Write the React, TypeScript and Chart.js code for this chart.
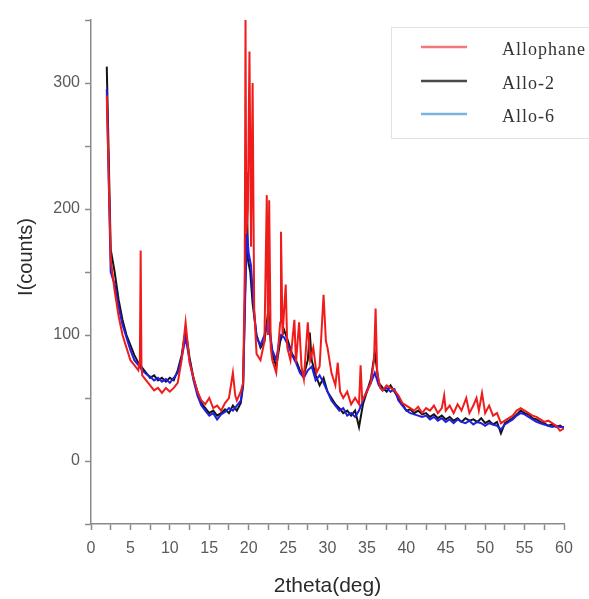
import React, { useEffect, useRef } from "react";
import { Chart, registerables } from "chart.js";

Chart.register(...registerables);

// ---------- data ----------
const seriesNames = ["Allophane", "Allo-2", "Allo-6"];

const allophaneX = [
  2.0, 2.5, 3.0, 3.5, 4.0, 4.5, 5.0, 5.5, 6.0, 6.2, 6.3, 6.4, 6.5, 7.0, 7.5, 8.0, 8.5, 9.0, 9.5, 10.0,
  10.5, 11.0, 11.5, 12.0, 12.5, 13.0, 13.5, 14.0, 14.5, 15.0, 15.5, 16.0, 16.5, 17.0, 17.5, 18.0, 18.3,
  18.5, 19.0, 19.3, 19.5, 19.6, 19.7, 19.9, 20.1, 20.3, 20.5, 20.7, 21.0, 21.5, 22.0, 22.3, 22.45, 22.6,
  22.8, 23.0, 23.5, 24.0, 24.1, 24.3, 24.7, 24.9, 25.3, 25.8, 26.0, 26.4, 26.7, 27.0, 27.5, 27.8, 28.2,
  28.6, 29.0, 29.5, 29.8, 30.0, 30.5, 31.0, 31.3, 31.6, 32.0, 32.5, 33.0, 33.5, 34.0, 34.2, 34.4, 35.0,
  35.5, 35.9, 36.1, 36.3, 36.7, 37.0, 37.5, 38.0, 38.5, 39.0, 39.5, 40.0, 40.5, 41.0, 41.5, 42.0, 42.5,
  43.0, 43.5, 44.0, 44.5, 44.8, 45.0, 45.5, 46.0, 46.5, 47.0, 47.6, 48.0, 48.5, 48.9, 49.2, 49.6, 50.0,
  50.5, 51.0, 51.5, 52.0, 52.5, 53.0, 53.5, 54.0, 54.5, 55.0, 55.5, 56.0, 56.5, 57.0, 57.5, 58.0, 58.5,
  59.0, 59.5, 60.0,
];
const allophaneY = [
  290, 160, 135, 115, 100, 90, 80, 76, 72, 80, 167, 75, 68, 64, 60, 56, 58, 54, 58, 55,
  58, 62, 80, 110, 78, 66, 55, 48, 45, 50, 42, 44, 40, 46, 50, 70, 52,
  48, 55, 62, 150, 350, 180, 200, 325, 170, 300, 120, 85, 80, 95, 211, 100, 207,
  90, 80, 70, 110, 182, 100, 140, 90, 80, 112, 78, 110, 75, 65, 110, 80, 90,
  70, 75, 132, 95, 90, 70, 60, 78, 55, 50, 55, 45, 50, 45, 76, 48, 55,
  62, 80, 121, 70, 58, 56, 60, 58, 56, 52, 46, 44, 42, 40, 43, 38, 42,
  40, 44, 38, 42, 52, 40, 44, 38, 45, 40, 50, 38, 44, 50, 40, 54, 38,
  44, 36, 38, 30, 32, 34, 36, 40, 42, 40, 38, 36, 35, 33, 31, 32, 30,
  28, 24, 26,
];

const allo2X = [
  2.0, 2.5, 3.0, 3.5, 4.0, 4.5, 5.0, 5.5, 6.0, 6.5, 7.0, 7.5, 8.0, 8.5, 9.0, 9.5, 10.0, 10.5, 11.0, 11.5,
  12.0, 12.5, 13.0, 13.5, 14.0, 14.5, 15.0, 15.5, 16.0, 16.5, 17.0, 17.5, 18.0, 18.5, 19.0, 19.3, 19.6,
  19.75, 19.9, 20.2, 20.5, 21.0, 21.5, 22.0, 22.5, 22.8, 23.0, 23.5, 24.0, 24.5, 25.0, 25.5, 26.0, 26.5,
  27.0, 27.5, 27.75, 28.0, 28.5, 29.0, 29.5, 30.0, 30.5, 31.0, 31.5, 32.0, 32.5, 33.0, 33.5, 34.0, 34.5,
  35.0, 35.5, 36.0, 36.5, 37.0, 37.5, 38.0, 38.5, 39.0, 39.5, 40.0, 40.5, 41.0, 41.5, 42.0, 42.5, 43.0,
  43.5, 44.0, 44.5, 45.0, 45.5, 46.0, 46.5, 47.0, 47.5, 48.0, 48.5, 49.0, 49.5, 50.0, 50.5, 51.0, 51.5,
  52.0, 52.5, 53.0, 53.5, 54.0, 54.5, 55.0, 55.5, 56.0, 56.5, 57.0, 57.5, 58.0, 58.5, 59.0, 59.5, 60.0,
];
const allo2Y = [
  313, 168, 150, 128, 112, 100, 92, 84, 78, 74, 70, 66, 68, 64, 66, 63, 66, 64, 72, 84,
  104, 82, 66, 55, 46, 42, 38, 40, 36, 38, 41, 38, 44, 40, 46, 60, 150,
  229, 160, 150, 125, 100, 90, 95, 120, 95, 85, 75, 95, 104, 95, 85, 80, 72,
  68, 80, 102, 80, 68, 60, 66, 55, 50, 45, 42, 38, 40, 36, 40, 27, 45,
  55, 65, 86, 62, 58, 55, 60, 55, 50, 45, 40, 41, 38, 40, 37, 38, 35,
  37, 34, 36, 33, 35, 32, 34, 31, 34, 32, 33, 31, 34, 30, 32, 29, 31,
  22, 30, 32, 34, 37, 40, 38, 37, 34, 33, 31, 30, 28, 29, 27, 28, 26,
];

const allo6X = [
  2.0, 2.5, 3.0, 3.5, 4.0, 4.5, 5.0, 5.5, 6.0, 6.5, 7.0, 7.5, 8.0, 8.5, 9.0, 9.5, 10.0, 10.5, 11.0, 11.5,
  12.0, 12.5, 13.0, 13.5, 14.0, 14.5, 15.0, 15.5, 16.0, 16.5, 17.0, 17.5, 18.0, 18.5, 19.0, 19.3, 19.6,
  19.8, 20.0, 20.3, 20.6, 21.0, 21.5, 22.0, 22.5, 23.0, 23.5, 24.0, 24.5, 25.0, 25.5, 26.0, 26.5, 27.0,
  27.5, 28.0, 28.5, 29.0, 29.5, 30.0, 30.5, 31.0, 31.5, 32.0, 32.5, 33.0, 33.5, 34.0, 34.5, 35.0, 35.5,
  36.0, 36.5, 37.0, 37.5, 38.0, 38.5, 39.0, 39.5, 40.0, 40.5, 41.0, 41.5, 42.0, 42.5, 43.0, 43.5, 44.0,
  44.5, 45.0, 45.5, 46.0, 46.5, 47.0, 47.5, 48.0, 48.5, 49.0, 49.5, 50.0, 50.5, 51.0, 51.5, 52.0, 52.5,
  53.0, 53.5, 54.0, 54.5, 55.0, 55.5, 56.0, 56.5, 57.0, 57.5, 58.0, 58.5, 59.0, 59.5, 60.0,
];
const allo6Y = [
  295, 150, 140, 122, 108, 98, 88, 80, 76, 72, 69, 67, 64, 66, 63, 65, 62, 66, 70, 82,
  98, 80, 64, 52, 44, 40, 36, 38, 33, 37, 39, 42, 40, 44, 48, 62, 140,
  180, 165, 155, 125, 98, 92, 100, 112, 88, 80, 100, 98, 92, 84, 78, 70, 66,
  72, 75, 64, 68, 62, 55, 48, 44, 40, 42, 36, 38, 35, 40, 48, 56, 62,
  70, 60, 56, 58, 55, 57, 48, 44, 40, 38, 37, 36, 35, 36, 33, 35, 32,
  34, 31, 33, 30, 33, 31, 30, 32, 29, 31, 30, 28, 30, 29, 28, 25, 29,
  31, 33, 36, 38, 37, 35, 33, 31, 30, 29, 28, 27, 28, 27, 27,
];

const xMajorLabels = [0, 5, 10, 15, 20, 25, 30, 35, 40, 45, 50, 55, 60];
const yMajorLabels = [0, 100, 200, 300];

const lineColors = ["#f01c1c", "#141414", "#1f1fe0"];
const legendColors = ["#f07a7a", "#4a4a4a", "#7ab3de"];

function toPoints(xs: number[], ys: number[]) {
  return xs.map((x, i) => ({ x, y: ys[i] }));
}

const overlayPlugin = {
  id: "overlay",
  afterDraw(chart: any) {
    const ctx = chart.ctx as CanvasRenderingContext2D;
    const area = chart.chartArea;
    ctx.save();
    // y axis title
    ctx.fillStyle = "#2a2a2a";
    ctx.font = "20px 'Liberation Sans', Arial, sans-serif";
    ctx.textAlign = "center";
    ctx.textBaseline = "middle";
    ctx.translate(26, 257);
    ctx.rotate(-Math.PI / 2);
    ctx.fillText("I(counts)", 0, 0);
    ctx.restore();

    // legend box
    ctx.save();
    const bx = area.right - 173;
    const by = area.top + 7;
    ctx.fillStyle = "#ffffff";
    ctx.fillRect(bx, by, 240, 111);
    ctx.strokeStyle = "#e2e2e2";
    ctx.lineWidth = 1;
    ctx.strokeRect(bx + 0.5, by + 0.5, 240, 111);
    const rows = [by + 22, by + 56, by + 89];
    ctx.font = "18px 'Liberation Serif', 'Times New Roman', serif";
    (ctx as any).letterSpacing = "1px";
    ctx.textAlign = "left";
    ctx.textBaseline = "middle";
    seriesNames.forEach((name, i) => {
      ctx.strokeStyle = legendColors[i];
      ctx.lineWidth = 2.5;
      ctx.beginPath();
      ctx.moveTo(bx + 30, rows[i] - 2);
      ctx.lineTo(bx + 76, rows[i] - 2);
      ctx.stroke();
      ctx.fillStyle = "#333333";
      ctx.fillText(name, bx + 111, rows[i] + 1);
    });
    ctx.restore();
  },
};

export default function App() {
  const ref = useRef<HTMLCanvasElement | null>(null);
  useEffect(() => {
    if (!ref.current) return;
    const chart = new Chart(ref.current, {
      type: "line",
      data: {
        datasets: [
          { label: seriesNames[0], data: toPoints(allophaneX, allophaneY), borderColor: lineColors[0], order: 1 },
          { label: seriesNames[1], data: toPoints(allo2X, allo2Y), borderColor: lineColors[1], order: 3 },
          { label: seriesNames[2], data: toPoints(allo6X, allo6Y), borderColor: lineColors[2], order: 2 },
        ].map((d) => ({ ...d, borderWidth: 2, pointRadius: 0, tension: 0, fill: false })),
      },
      options: {
        animation: false,
        responsive: false,
        events: [],
        layout: { padding: { left: 0, top: 20, right: 25, bottom: 0 } },
        plugins: { legend: { display: false }, tooltip: { enabled: false } },
        scales: {
          x: {
            type: "linear",
            min: 0,
            max: 60,
            afterFit: (s: any) => {
              s.height = 75;
            },
            ticks: {
              stepSize: 2.5,
              autoSkip: false,
              maxRotation: 0,
              padding: 9,
              color: "#5a5a5a",
              font: { family: "'Liberation Sans', Arial, sans-serif", size: 16 },
              callback: (v: any) => (xMajorLabels.includes(Number(v)) ? String(v) : ""),
            },
            grid: { drawOnChartArea: false, drawTicks: true, tickLength: 6, tickColor: "#8a8a8a", tickWidth: 1.5 },
            border: { display: true, color: "#8a8a8a", width: 1.5 },
            title: {
              display: true,
              text: "2theta(deg)",
              color: "#2a2a2a",
              font: { family: "'Liberation Sans', Arial, sans-serif", size: 21 },
              padding: { top: 2, bottom: 0 },
            },
          },
          y: {
            type: "linear",
            min: -50,
            max: 350,
            afterFit: (s: any) => {
              s.width = 91;
            },
            ticks: {
              stepSize: 50,
              autoSkip: false,
              padding: 5,
              color: "#5a5a5a",
              font: { family: "'Liberation Sans', Arial, sans-serif", size: 16 },
              callback: (v: any) => (yMajorLabels.includes(Number(v)) ? String(v) : ""),
            },
            grid: { drawOnChartArea: false, drawTicks: true, tickLength: 6, tickColor: "#8a8a8a", tickWidth: 1.5 },
            border: { display: true, color: "#8a8a8a", width: 1.5 },
          },
        },
      },
      plugins: [overlayPlugin],
    } as any);
    return () => chart.destroy();
  }, []);
  return (
    <div style={{ position: "absolute", left: 0, top: 0, width: 589, height: 599, background: "#fff" }}>
      <canvas ref={ref} width={589} height={599} />
    </div>
  );
}
